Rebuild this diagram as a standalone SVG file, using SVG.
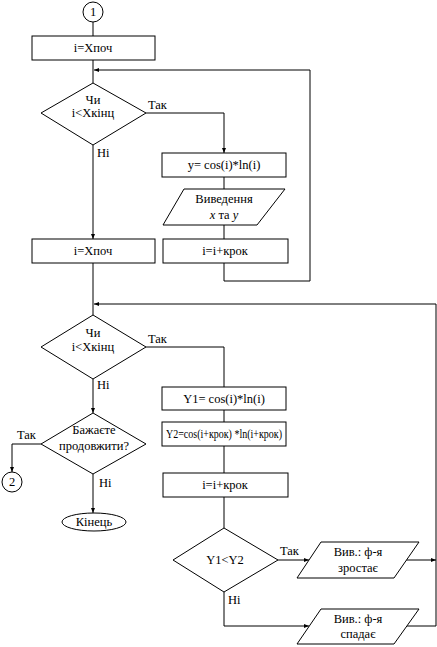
<svg xmlns="http://www.w3.org/2000/svg" width="437" height="647" viewBox="0 0 437 647" font-family="'Liberation Serif', 'Times New Roman', serif" font-size="12.5">
<defs>
<marker id="ah" viewBox="0 0 10 10" refX="10" refY="5" markerWidth="5" markerHeight="5" orient="auto" markerUnits="userSpaceOnUse">
<path d="M0,1 L10,5 L0,9 z" fill="#000"/>
</marker>
<style>
.s{fill:#fff;stroke:#000;stroke-width:1}
.c{fill:none;stroke:#000;stroke-width:1}
text{font-family:'Liberation Serif','Times New Roman',serif;font-size:12.5px;fill:#000}
.m{text-anchor:middle}
</style>
</defs>
<rect width="437" height="647" fill="#fff"/>
<g id="connectors">
<path class="c" d="M93,22 V36"/>
<path class="c" d="M93,60 V83"/>
<path class="c" d="M310,70 H94" marker-end="url(#ah)"/>
<path class="c" d="M146,113 H224 V153" marker-end="url(#ah)"/>
<path class="c" d="M224,177 V189"/>
<path class="c" d="M224,225 V239"/>
<path class="c" d="M224,263 V281 H310 V70"/>
<path class="c" d="M93,145 V239" marker-end="url(#ah)"/>
<path class="c" d="M93,263 V315"/>
<path class="c" d="M436,304 H94" marker-end="url(#ah)"/>
<path class="c" d="M146,347 H224 V387"/>
<path class="c" d="M224,410 V422"/>
<path class="c" d="M224,446 V473"/>
<path class="c" d="M224,497 V528"/>
<path class="c" d="M93,379 V413" marker-end="url(#ah)"/>
<path class="c" d="M41,444 H12 V472" marker-end="url(#ah)"/>
<path class="c" d="M93,474 V513" marker-end="url(#ah)"/>
<path class="c" d="M278,560 H309" marker-end="url(#ah)"/>
<path class="c" d="M224,592 V626 H309" marker-end="url(#ah)"/>
<path class="c" d="M406,560 H436" marker-end="url(#ah)"/>
<path class="c" d="M406,626 H436 V304"/>
<text x="148" y="109">Так</text>
<text x="97" y="157">Ні</text>
<text x="148" y="343">Так</text>
<text x="97" y="389">Ні</text>
<text x="17" y="439">Так</text>
<text x="99" y="487">Ні</text>
<text x="280" y="555">Так</text>
<text x="228" y="604">Ні</text>
</g>
<g id="c1">
<circle class="s" cx="93" cy="12" r="10"/>
<text class="m" x="93" y="16">1</text>
</g>
<g id="init1">
<rect class="s" x="32" y="36" width="123" height="24"/>
<text class="m" x="93" y="52">i=Xпоч</text>
</g>
<g id="cond1">
<polygon class="s" points="93,83 146,113 93,145 41,113"/>
<text class="m" x="93" y="104">Чи</text>
<text class="m" x="93" y="117">i&lt;Xкінц</text>
</g>
<g id="calc1">
<rect class="s" x="162" y="153" width="124" height="24"/>
<text class="m" x="224" y="169">y= cos(i)*ln(i)</text>
</g>
<g id="out1">
<polygon class="s" points="184,189 285,189 257,225 163,225"/>
<text class="m" x="224" y="203">Виведення</text>
<text class="m" x="224" y="219"><tspan font-style="italic">x</tspan> та <tspan font-style="italic">y</tspan></text>
</g>
<g id="step1">
<rect class="s" x="163" y="239" width="125" height="24"/>
<text class="m" x="225" y="255">i=i+крок</text>
</g>
<g id="init2">
<rect class="s" x="32" y="239" width="123" height="24"/>
<text class="m" x="93" y="255">i=Xпоч</text>
</g>
<g id="cond2">
<polygon class="s" points="93,315 146,347 93,379 41,347"/>
<text class="m" x="93" y="337">Чи</text>
<text class="m" x="93" y="351">i&lt;Xкінц</text>
</g>
<g id="y1">
<rect class="s" x="162" y="387" width="124" height="23"/>
<text class="m" x="224" y="403">Y1= cos(i)*ln(i)</text>
</g>
<g id="y2">
<rect class="s" x="162" y="422" width="124" height="24"/>
<text x="166" y="438" textLength="116" lengthAdjust="spacingAndGlyphs">Y2=cos(i+крок) *ln(i+крок)</text>
</g>
<g id="ask">
<polygon class="s" points="93,413 146,444 93,474 41,444"/>
<text class="m" x="94" y="434">Бажаєте</text>
<text class="m" x="94" y="450">продовжити?</text>
</g>
<g id="c2">
<circle class="s" cx="12" cy="482" r="10"/>
<text class="m" x="12" y="486">2</text>
</g>
<g id="end">
<ellipse class="s" cx="94" cy="522" rx="32" ry="9"/>
<text class="m" x="94" y="526">Кінець</text>
</g>
<g id="step2">
<rect class="s" x="163" y="473" width="125" height="24"/>
<text class="m" x="225" y="489">i=i+крок</text>
</g>
<g id="cond3">
<polygon class="s" points="224,528 278,560 224,592 173,560"/>
<text class="m" x="225" y="564">Y1&lt;Y2</text>
</g>
<g id="outInc">
<polygon class="s" points="321,542 419,542 394,578 297,578"/>
<text class="m" x="358" y="556">Вив.: ф-я</text>
<text class="m" x="358" y="572">зростає</text>
</g>
<g id="outDec">
<polygon class="s" points="321,609 419,609 394,644 297,644"/>
<text class="m" x="358" y="623">Вив.: ф-я</text>
<text class="m" x="358" y="638">спадає</text>
</g>
</svg>
